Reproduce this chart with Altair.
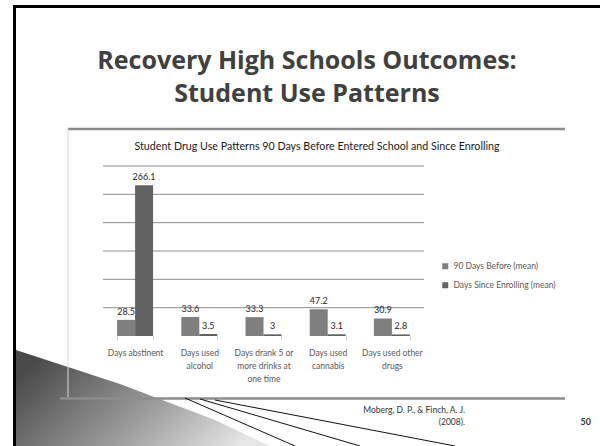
import altair as alt
import pandas as pd

# ---- chart data -------------------------------------------------------------
# category labels; "|" marks where the axis label wraps onto a new line
categories = [
    "Days abstinent",
    "Days used|alcohol",
    "Days drank 5 or|more drinks at|one time",
    "Days used|cannabis",
    "Days used other|drugs",
]
series = ["90 Days Before (mean)", "Days Since Enrolling (mean)"]
before_90_days = [28.5, 33.6, 33.3, 47.2, 30.9]
since_enrolling = [266.1, 3.5, 3.0, 3.1, 2.8]
y_ticks = [0, 50, 100, 150, 200, 250, 300]

df = pd.DataFrame({
    "category": categories * 2,
    "series": [series[0]] * len(categories) + [series[1]] * len(categories),
    "value": before_90_days + since_enrolling,
})
grid_df = pd.DataFrame({"tick": y_ticks[1:]})

# ---- page geometry ----------------------------------------------------------
PAGE_W, PAGE_H = 600, 446
PLOT_LEFT, PLOT_TOP = 103, 166
PLOT_W, PLOT_H = 321, 170

def px(x):
    """page x -> plot-relative x"""
    return x - PLOT_LEFT

def py(y):
    """page y -> plot-relative y"""
    return y - PLOT_TOP

FONT = "Lato"
one_row = alt.Data(values=[{}])

# ---- bars -------------------------------------------------------------------
y_scale = alt.Scale(domain=[0, 300], nice=False)
x_enc = alt.X(
    "category:N",
    sort=categories,
    scale=alt.Scale(paddingInner=0.44, paddingOuter=0.22),
    axis=alt.Axis(
        title=None,
        labelExpr="split(datum.label, '|')",
        labelAngle=0,
        labelFont=FONT,
        labelFontSize=8.5,
        labelColor="#595959",
        labelLineHeight=13,
        labelPadding=8,
        labelBaseline="top",
        domain=False,
        ticks=True,
        tickBand="extent",
        tickColor="#d0d0d0",
        tickSize=4,
        grid=False,
    ),
)
xo_enc = alt.XOffset("series:N", sort=series,
                     scale=alt.Scale(paddingInner=0, paddingOuter=0))
y_enc = alt.Y(
    "value:Q",
    scale=y_scale,
    axis=alt.Axis(
        title=None,
        values=y_ticks,
        grid=False,
        domain=False,
        ticks=False,
        labelFont=FONT,
        labelFontSize=8.5,
        labelColor="#595959",
        labelPadding=4,
    ),
)

grid = alt.Chart(grid_df).mark_rule(color="#8c8c8c", strokeWidth=1).encode(
    y=alt.Y("tick:Q", scale=y_scale, axis=None),
    x=alt.value(0),
    x2=alt.value(PLOT_W),
)

bars = alt.Chart(df).mark_bar(size=18).encode(
    x=x_enc,
    xOffset=xo_enc,
    y=y_enc,
    color=alt.Color(
        "series:N",
        sort=series,
        scale=alt.Scale(domain=series, range=["#7f7f7f", "#626262"]),
        legend=alt.Legend(
            title=None,
            orient="none",
            legendX=338,
            legendY=96,
            symbolType="square",
            symbolSize=36,
            symbolStrokeWidth=0,
            labelFont=FONT,
            labelFontSize=8.5,
            labelColor="#595959",
            rowPadding=10,
            labelOffset=4,
        ),
    ),
)

values_text = alt.Chart(df).mark_text(
    baseline="bottom", dy=-3, fontSize=9, font=FONT, color="#262626"
).encode(
    x=alt.X("category:N", sort=categories),
    xOffset=alt.XOffset("series:N", sort=series),
    y=alt.Y("value:Q", scale=y_scale),
    text=alt.Text("value:Q", format=".4~g"),
)

# ---- slide decoration -------------------------------------------------------
def text_at(text, x, y, size, color, weight="normal", align="center", font=FONT):
    return alt.Chart(one_row).mark_text(
        text=text, align=align, baseline="middle", fontSize=size,
        font=font, fontWeight=weight, color=color,
    ).encode(x=alt.value(px(x)), y=alt.value(py(y)))

def line_at(x1, y1, x2, y2, color, width):
    return alt.Chart(one_row).mark_rule(color=color, strokeWidth=width).encode(
        x=alt.value(px(x1)), y=alt.value(py(y1)),
        x2=alt.value(px(x2)), y2=alt.value(py(y2)),
    )

# grey swoosh in the lower-left corner (custom symbol path in page pixels)
swoosh = alt.Chart(one_row).mark_point(
    shape="M 16 350 L 120 384 L 215 420 L 270 446 L 16 446 Z",
    size=4,
    filled=True,
    opacity=1,
    strokeWidth=0,
    fill=alt.LinearGradient(
        gradient="linear",
        stops=[
            alt.GradientStop(color="#4a4a4a", offset=0),
            alt.GradientStop(color="#9a9a9a", offset=0.55),
            alt.GradientStop(color="#e6e6e6", offset=1),
        ],
        x1=0, x2=1, y1=0.3, y2=0.7,
    ),
).encode(x=alt.value(px(0)), y=alt.value(py(0)))

decor = [
    swoosh,
    # slide frame
    line_at(14.5, 5, 14.5, PAGE_H, "#000000", 3),
    line_at(13, 6.5, PAGE_W, 6.5, "#000000", 3),
    # chart frame
    line_at(68, 129, 565, 129, "#8c8c8c", 2.5),
    line_at(68, 129, 68, 398, "#d9d9d9", 1),
    line_at(60, 398.5, 565, 398.5, "#8c8c8c", 2.5),
    # fanned lines over the swoosh
    line_at(185, 398, 295, 446, "#111111", 1),
    line_at(200, 399, 360, 446, "#111111", 1),
    line_at(215, 400, 455, 446, "#111111", 1),
    # titles and notes
    text_at("Recovery High Schools Outcomes:", 307, 61, 25, "#404040", "bold", font="Open Sans"),
    text_at("Student Use Patterns", 307, 94, 25, "#404040", "bold", font="Open Sans"),
    text_at("Student Drug Use Patterns 90 Days Before Entered School and Since Enrolling",
            317, 147, 10.7, "#1a1a1a"),
    text_at("Moberg, D. P., & Finch, A. J.", 465, 410, 8.5, "#333333", align="right"),
    text_at("(2008).", 465, 422, 8.5, "#333333", align="right"),
    text_at("50", 591, 422, 9, "#333333", "bold", align="right"),
]

chart = alt.layer(grid, bars, values_text, *decor).properties(
    width=PLOT_W,
    height=PLOT_H,
    padding={"left": PLOT_LEFT, "top": PLOT_TOP,
             "right": PAGE_W - PLOT_LEFT - PLOT_W,
             "bottom": PAGE_H - PLOT_TOP - PLOT_H},
    autosize=alt.AutoSizeParams(type="none"),
    background="white",
).configure_view(stroke=None)

chart.save("out.html", embed_options={"renderer": "svg", "actions": False})
